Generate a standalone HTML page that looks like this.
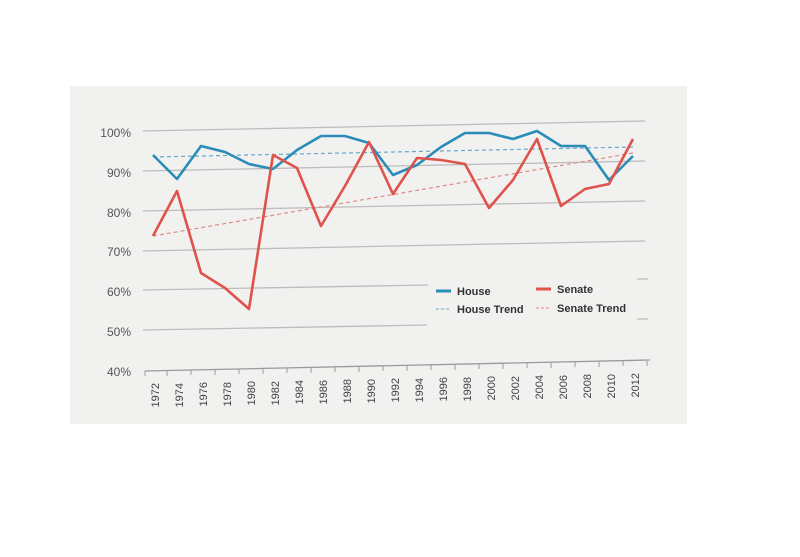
<!DOCTYPE html>
<html><head><meta charset="utf-8"><style>
html,body{margin:0;padding:0;background:#fff;}
svg{display:block;}
text{font-family:"Liberation Sans",sans-serif;}
</style></head><body>
<svg width="800" height="557" viewBox="0 0 800 557" xmlns="http://www.w3.org/2000/svg">
<rect x="70" y="86" width="617" height="338" fill="#f1f1f0"/>
<g stroke="#bdbdbd" stroke-width="1.3">
<line x1="143" y1="131" x2="645" y2="121"/>
<line x1="143" y1="171" x2="645" y2="161"/>
<line x1="143" y1="211" x2="645" y2="201"/>
<line x1="143" y1="251" x2="645" y2="241"/>
<line x1="143" y1="290" x2="428" y2="285"/>
<line x1="637" y1="279" x2="648" y2="279"/>
<line x1="143" y1="330" x2="427" y2="325"/>
<line x1="637" y1="319" x2="648" y2="319"/>
<line x1="145" y1="371" x2="650" y2="360" stroke="#9a9a9a"/>
</g>
<g stroke="#9a9a9a" stroke-width="1">
<line x1="145" y1="371" x2="145" y2="376"/><line x1="167" y1="371" x2="167" y2="376"/><line x1="191" y1="370" x2="191" y2="375"/><line x1="215" y1="370" x2="215" y2="375"/><line x1="239" y1="369" x2="239" y2="374"/><line x1="263" y1="369" x2="263" y2="374"/><line x1="287" y1="368" x2="287" y2="373"/><line x1="311" y1="368" x2="311" y2="373"/><line x1="335" y1="367" x2="335" y2="372"/><line x1="359" y1="367" x2="359" y2="372"/><line x1="383" y1="366" x2="383" y2="371"/><line x1="407" y1="366" x2="407" y2="371"/><line x1="431" y1="365" x2="431" y2="370"/><line x1="455" y1="365" x2="455" y2="370"/><line x1="479" y1="364" x2="479" y2="369"/><line x1="503" y1="364" x2="503" y2="369"/><line x1="527" y1="363" x2="527" y2="368"/><line x1="551" y1="363" x2="551" y2="368"/><line x1="575" y1="362" x2="575" y2="367"/><line x1="599" y1="362" x2="599" y2="367"/><line x1="623" y1="361" x2="623" y2="366"/><line x1="647" y1="361" x2="647" y2="366"/>
</g>
<g font-size="12" fill="#555" text-anchor="end">
<text x="131" y="137">100%</text><text x="131" y="177">90%</text><text x="131" y="217">80%</text><text x="131" y="256">70%</text><text x="131" y="296">60%</text><text x="131" y="336">50%</text><text x="131" y="376">40%</text>
</g>
<g font-size="11" fill="#444" text-anchor="end">
<text transform="translate(159,383) rotate(-90)">1972</text>
<text transform="translate(183,383) rotate(-90)">1974</text>
<text transform="translate(207,382) rotate(-90)">1976</text>
<text transform="translate(231,382) rotate(-90)">1978</text>
<text transform="translate(255,381) rotate(-90)">1980</text>
<text transform="translate(279,381) rotate(-90)">1982</text>
<text transform="translate(303,380) rotate(-90)">1984</text>
<text transform="translate(327,380) rotate(-90)">1986</text>
<text transform="translate(351,379) rotate(-90)">1988</text>
<text transform="translate(375,379) rotate(-90)">1990</text>
<text transform="translate(399,378) rotate(-90)">1992</text>
<text transform="translate(423,378) rotate(-90)">1994</text>
<text transform="translate(447,377) rotate(-90)">1996</text>
<text transform="translate(471,377) rotate(-90)">1998</text>
<text transform="translate(495,376) rotate(-90)">2000</text>
<text transform="translate(519,376) rotate(-90)">2002</text>
<text transform="translate(543,375) rotate(-90)">2004</text>
<text transform="translate(567,375) rotate(-90)">2006</text>
<text transform="translate(591,374) rotate(-90)">2008</text>
<text transform="translate(615,374) rotate(-90)">2010</text>
<text transform="translate(639,373) rotate(-90)">2012</text>
</g>
<line x1="153" y1="157" x2="633" y2="147" stroke="#6aa6c8" stroke-width="1.2" stroke-dasharray="4,3"/>
<line x1="153" y1="236" x2="633" y2="153" stroke="#e08a86" stroke-width="1.2" stroke-dasharray="4,3"/>
<polyline fill="none" stroke="#2a8db8" stroke-width="2.6" stroke-linejoin="round" points="153,155 177,179 201,146 225,152 249,164 273,169 297,150 321,136 345,136 369,143 393,175 417,165 441,147 465,133 489,133 513,139 537,131 561,146 585,146 609,180 633,156"/>
<polyline fill="none" stroke="#e0524c" stroke-width="2.6" stroke-linejoin="round" points="153,236 177,191 201,273 225,288 249,309 273,155 297,168 321,226 345,186 369,142 393,194 417,158 441,160 465,164 489,208 513,180 537,139 561,206 585,189 609,184 633,139"/>
<g font-size="11" font-weight="bold" fill="#333">
<line x1="436" y1="291" x2="451" y2="291" stroke="#2a8db8" stroke-width="3"/>
<text x="457" y="295">House</text>
<line x1="436" y1="309" x2="451" y2="309" stroke="#6aa6c8" stroke-width="1" stroke-dasharray="3,2"/>
<text x="457" y="313">House Trend</text>
<line x1="536" y1="289" x2="551" y2="289" stroke="#e0524c" stroke-width="3"/>
<text x="557" y="293">Senate</text>
<line x1="536" y1="308" x2="551" y2="308" stroke="#e08a86" stroke-width="1" stroke-dasharray="3,2"/>
<text x="557" y="312">Senate Trend</text>
</g>
</svg>
</body></html>
